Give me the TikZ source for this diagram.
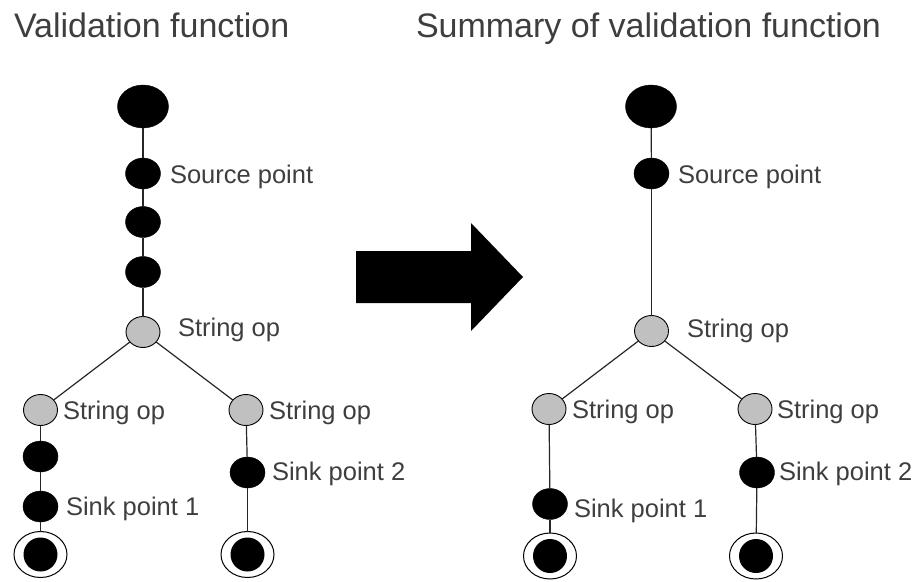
\documentclass[tikz,border=0pt]{standalone}
\usepackage{fontspec}
\setmainfont{Liberation Sans}
\usetikzlibrary{shapes.geometric}
\definecolor{txt}{RGB}{62,62,62}
\definecolor{opgray}{RGB}{192,192,192}
\begin{document}
\begin{tikzpicture}[x=1pt,y=-1pt,
  every node/.style={inner sep=0pt, outer sep=0pt},
  bigdot/.style={ellipse, fill=black, draw=black, minimum width=51pt, minimum height=43pt},
  blk/.style={ellipse, fill=black, draw=black, minimum width=35pt, minimum height=31pt},
  strop/.style={ellipse, fill=opgray, draw=black, line width=0.9pt, minimum width=34pt, minimum height=31pt},
  sinkend/.style={ellipse, fill=white, draw=black, line width=1pt, minimum width=53pt, minimum height=46pt,
    path picture={\fill[black] (path picture bounding box.center) circle (17pt);}},
  lbl/.style={anchor=base west, text=txt, font=\fontsize{25.5}{30}\selectfont},
  ttl/.style={anchor=base west, text=txt, font=\fontsize{34}{40}\selectfont},
  edge/.style={draw=black!85, line width=1.2pt}]
\useasboundingbox (0,0) rectangle (918,581);

% titles
\node[ttl] (tl) at (14,37) {Validation function};
\node[ttl] (tr) at (416,37) {Summary of validation function};

% full validation function
\node[bigdot] (L0) at (143,106.5) {};
\node[blk] (L1) at (143,173.5) {};
\node[blk] (L2) at (143,222) {};
\node[blk] (L3) at (143,272) {};
\node[strop] (L4) at (143,332) {};
\node[strop] (L5) at (40.5,410) {};
\node[strop] (L6) at (246,410) {};
\node[blk] (L7) at (40.5,456.5) {};
\node[blk] (L8) at (40.5,506.5) {};
\node[sinkend] (L9) at (40.5,554.5) {};
\node[blk] (L10) at (247.5,472.5) {};
\node[sinkend] (L11) at (247.5,554.5) {};

\draw[edge] (L0) -- (L1);
\draw[edge] (L1) -- (L2);
\draw[edge] (L2) -- (L3);
\draw[edge] (L3) -- (L4);
\draw[edge] (L4) -- (L5);
\draw[edge] (L4) -- (L6);
\draw[edge] (L5) -- (L7);
\draw[edge] (L7) -- (L8);
\draw[edge] (L8) -- (L9);
\draw[edge] (L6) -- (L10);
\draw[edge] (L10) -- (L11);

\node[lbl] (l1) at (170,183) {Source point};
\node[lbl] (l4) at (178,336) {String op};
\node[lbl] (l5) at (63,419) {String op};
\node[lbl] (l6) at (269,419) {String op};
\node[lbl] (l8) at (66,515) {Sink point 1};
\node[lbl] (l10) at (272,480) {Sink point 2};

% transformation arrow
\fill[black] (356,251) -- (471,251) -- (471,223) -- (523,277) -- (471,331) -- (471,303) -- (356,303) -- cycle;

% summarised function
\node[bigdot] (R0) at (651,106.5) {};
\node[blk] (R1) at (651.5,173.5) {};
\node[strop] (R2) at (651.5,331) {};
\node[strop] (R3) at (549,409) {};
\node[strop] (R4) at (755,409) {};
\node[blk] (R5) at (550,504) {};
\node[blk] (R6) at (757,472.5) {};
\node[sinkend] (R7) at (550,556) {};
\node[sinkend] (R8) at (756,556) {};

\draw[edge] (R0) -- (R1);
\draw[edge] (R1) -- (R2);
\draw[edge] (R2) -- (R3);
\draw[edge] (R2) -- (R4);
\draw[edge] (R3) -- (R5);
\draw[edge] (R5) -- (R7);
\draw[edge] (R4) -- (R6);
\draw[edge] (R6) -- (R8);

\node[lbl] (r1) at (678,183) {Source point};
\node[lbl] (r2) at (687,337) {String op};
\node[lbl] (r3) at (572,418) {String op};
\node[lbl] (r4) at (777,418) {String op};
\node[lbl] (r5) at (574,517) {Sink point 1};
\node[lbl] (r6) at (779,480) {Sink point 2};
\end{tikzpicture}
\end{document}
